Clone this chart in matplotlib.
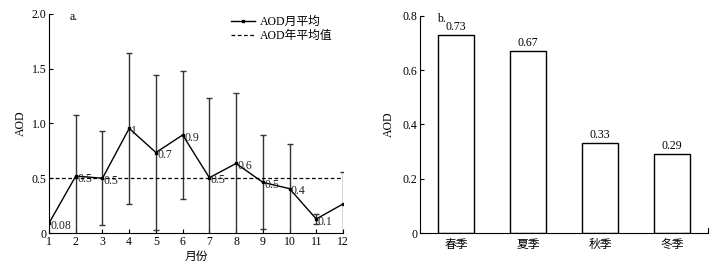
import matplotlib
matplotlib.use("Agg")
import matplotlib.pyplot as plt
import numpy as np

plt.rcParams['font.family'] = ['Liberation Serif', 'Noto Sans CJK SC']
plt.rcParams['font.size'] = 8
plt.rcParams['axes.unicode_minus'] = False

months = [1, 2, 3, 4, 5, 6, 7, 8, 9, 10, 11, 12]
aod_month = [0.09, 0.52, 0.50, 0.955, 0.735, 0.895, 0.505, 0.635, 0.463, 0.405, 0.128, 0.265]
aod_err = [0.0, 0.555, 0.43, 0.69, 0.71, 0.58, 0.73, 0.64, 0.43, 0.41, 0.05, 0.295]
month_labels = ["0.08", "0.5", "0.5", "1", "0.7", "0.9", "0.5", "0.6", "0.5", "0.4", "0.1", ""]
aod_year = 0.5

seasons = ["春季", "夏季", "秋季", "冬季"]
aod_season = [0.73, 0.67, 0.33, 0.29]

fig = plt.figure(figsize=(7.21, 2.74), dpi=100)

# ---- panel a ----
ax1 = fig.add_axes([0.068, 0.1496, 0.4077, 0.7994])
em = [m for m, e in zip(months, aod_err) if e > 0]
ev = [v for v, e in zip(aod_month, aod_err) if e > 0]
ee = [e for e in aod_err if e > 0]
ax1.errorbar(em, ev, yerr=ee, fmt='none', ecolor='#333333',
             elinewidth=1.0, capsize=2, capthick=1.0)
ax1.plot(months, aod_month, '-s', color='black', lw=1.0, markersize=1.8,
         label='AOD月平均')
ax1.axhline(aod_year, color='black', ls=(0, (3, 2)), lw=0.9, label='AOD年平均值')
for m, v, t in zip(months, aod_month, month_labels):
    if t:
        ax1.annotate(t, (m, v), xytext=(1, -2), textcoords='offset points',
                     ha='left', va='center', fontsize=8.5, color='#222222')
ax1.set_xlim(1, 12)
ax1.set_ylim(0, 2.0)
ax1.set_xticks(months)
ax1.set_yticks([0, 0.5, 1.0, 1.5, 2.0])
ax1.set_yticklabels(["0", "0.5", "1.0", "1.5", "2.0"])
ax1.tick_params(direction='in', length=3, width=0.8, pad=2, labelsize=8.5)
ax1.spines['top'].set_visible(False)
ax1.spines['right'].set_visible(False)
ax1.set_xlabel('月份', fontsize=8.5, labelpad=2)
ax1.set_ylabel('AOD', fontsize=8.5, labelpad=3)
ax1.text(0.07, 0.985, 'a.', transform=ax1.transAxes, ha='left', va='center', fontsize=8.5)
ax1.legend(loc='upper right', bbox_to_anchor=(1.0, 1.04), frameon=False,
           fontsize=8.5, handlelength=2.0, handletextpad=0.4, labelspacing=0.2,
           markerscale=1.0)

# ---- panel b ----
ax2 = fig.add_axes([0.5825, 0.1496, 0.3995, 0.7931])
x = np.arange(len(seasons))
ax2.bar(x, aod_season, width=0.5, facecolor='white', edgecolor='black', lw=1.0)
for xi, v in zip(x, aod_season):
    ax2.text(xi, v + 0.008, f"{v:.2f}", ha='center', va='bottom', fontsize=8.5)
ax2.set_xlim(-0.5, 3.5)
ax2.set_ylim(0, 0.8)
ax2.set_xticks(x)
ax2.set_xticklabels(seasons, fontsize=8.5)
ax2.set_yticks([0, 0.2, 0.4, 0.6, 0.8])
ax2.set_yticklabels(["0", "0.2", "0.4", "0.6", "0.8"])
ax2.tick_params(axis='y', direction='in', length=3, width=0.8, pad=2, labelsize=8.5)
ax2.tick_params(axis='x', length=0, pad=4)
ax2.spines['top'].set_visible(False)
ax2.spines['right'].set_visible(False)
ax2.set_ylabel('AOD', fontsize=8.5, labelpad=5)
ax2.text(0.06, 0.985, 'b.', transform=ax2.transAxes, ha='left', va='center', fontsize=8.5)
ax2.plot([3.5, 3.5], [0, 0.02], color='black', lw=0.8, clip_on=False)

fig.savefig('out.png', dpi=100)
